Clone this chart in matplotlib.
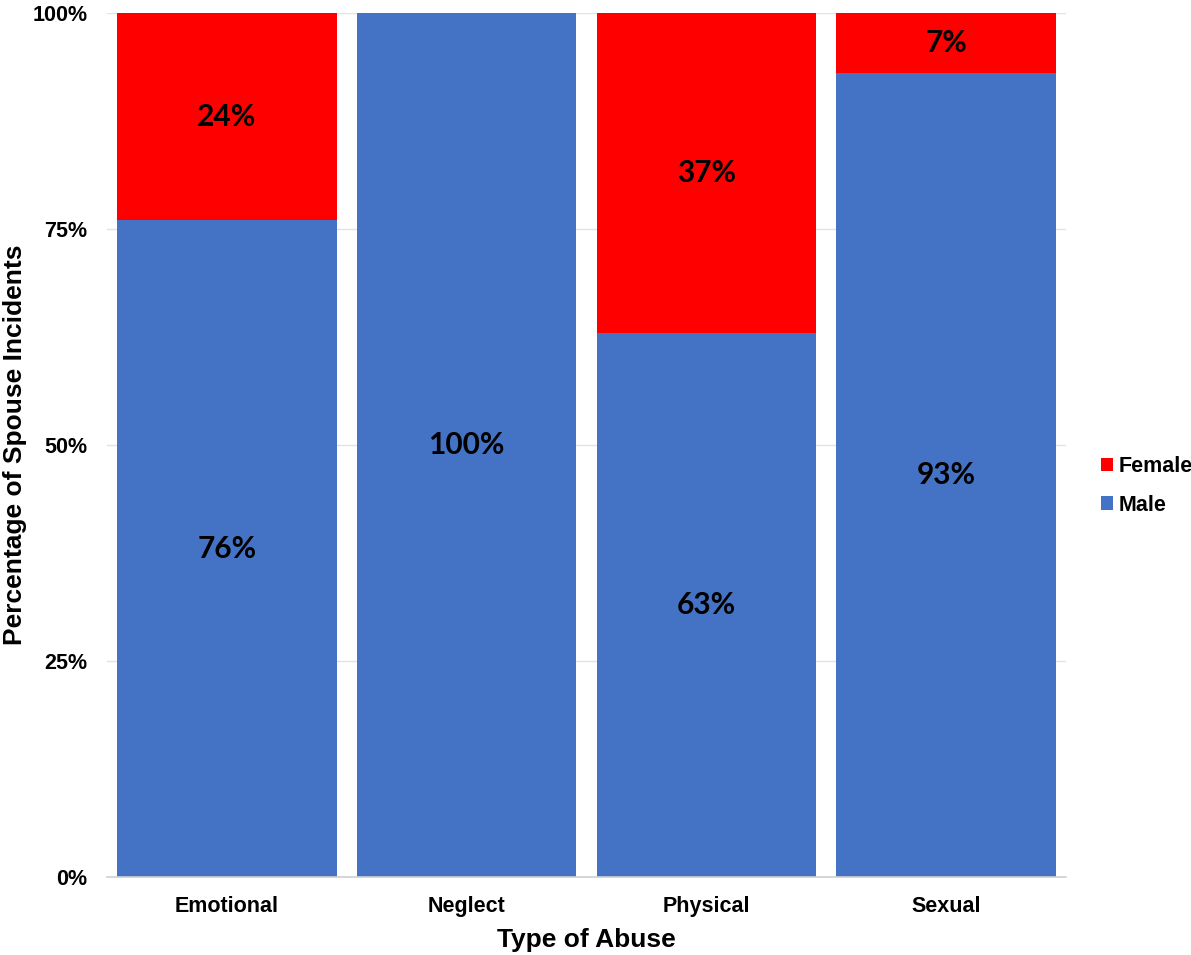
import matplotlib
matplotlib.use("Agg")
import matplotlib.pyplot as plt
from matplotlib.ticker import FixedLocator

categories = ["Emotional", "Neglect", "Physical", "Sexual"]
male = [76, 100, 63, 93]
female = [24, 0, 37, 7]
yticks = [0, 25, 50, 75, 100]
ytick_labels = ["0%", "25%", "50%", "75%", "100%"]

blue = "#4472C4"
red = "#FF0000"

fig = plt.figure(figsize=(11.91, 9.55), dpi=100)
ax = fig.add_axes([107/1191, 78/955, 959/1191, 864/955])

x = list(range(len(categories)))
w = 0.915
bm = ax.bar(x, male, width=w, color=blue, label="Male", zorder=3)
bf = ax.bar(x, female, width=w, bottom=male, color=red, label="Female", zorder=3)

lab_font = dict(family=["Lato", "DejaVu Sans"], fontsize=21.5, fontweight="bold", color="black")
for i in x:
    if male[i] > 0:
        ax.text(i, male[i] / 2, f"{male[i]}%", ha="center", va="center", zorder=5, **lab_font)
    if female[i] > 0:
        ax.text(i, male[i] + female[i] / 2, f"{female[i]}%", ha="center", va="center", zorder=5, **lab_font)

ax.set_xlim(-0.5, 3.5)
ax.set_ylim(0, 100)
ax.yaxis.set_major_locator(FixedLocator(yticks))
ax.set_yticklabels(ytick_labels, fontsize=15.5, fontweight="bold", family="Liberation Sans")
ax.set_xticks(x)
ax.set_xticklabels(categories, fontsize=15.5, fontweight="bold", family="Liberation Sans")
ax.tick_params(axis="both", length=0)
ax.tick_params(axis="y", pad=14)
ax.tick_params(axis="x", pad=14)
ax.grid(axis="y", color="#e3e3e3", linewidth=1, zorder=0)
for s in ["top", "right", "left"]:
    ax.spines[s].set_visible(False)
ax.spines["bottom"].set_color("#d0d0d0")
ax.spines["bottom"].set_linewidth(1.2)
ax.spines["bottom"].set_zorder(4)

fig.text(586/1191, 1 - 940/955, "Type of Abuse", fontsize=19, fontweight="bold",
         family="Liberation Sans", ha="center", va="center")
fig.text(15/1191, 1 - 445/955, "Percentage of Spouse Incidents", fontsize=19, fontweight="bold",
         family="Liberation Sans", ha="center", va="center", rotation=90)

handles = [bf, bm]
leg = fig.legend(handles, ["Female", "Male"], loc="center left", bbox_to_anchor=(1101/1191, 1 - 486/955),
                 frameon=False, prop=dict(family="Liberation Sans", weight="bold", size=15.5),
                 handlelength=0.56, handleheight=0.56, handletextpad=0.25, labelspacing=0.8,
                 borderpad=0, borderaxespad=0)

fig.savefig("out.png", dpi=100)
